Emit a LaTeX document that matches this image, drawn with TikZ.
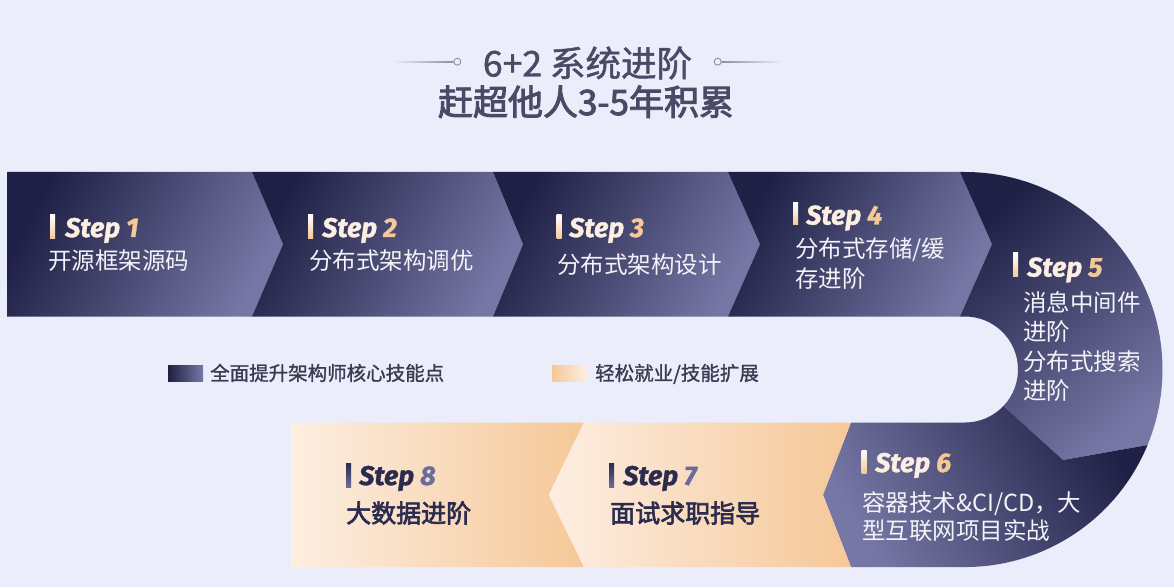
\documentclass[tikz,border=0pt]{standalone}
\usepackage{fontspec}
\setmainfont{Noto Sans CJK SC}
\newfontfamily\cjk{Noto Sans CJK SC}
\newfontfamily\cjkmed[FakeBold=2.6]{Noto Sans CJK SC}
\newfontfamily\cjksemi[FakeBold=1.3]{Noto Sans CJK SC}
\newfontfamily\stepfont[BoldItalicFeatures={FakeBold=1.2}]{Fira Sans}
\definecolor{bg}{HTML}{EBEDFA}
\definecolor{darkA}{HTML}{1F2045}
\definecolor{darkB}{HTML}{7677A5}
\definecolor{peachL}{HTML}{FDEEE2}
\definecolor{peachR}{HTML}{F5C898}
\definecolor{txtlight}{HTML}{F3F3F8}
\definecolor{titlecol}{HTML}{4A4A66}
\definecolor{legtxt}{HTML}{3A3A52}
\definecolor{stepA}{HTML}{FCEEE1}
\definecolor{stepB}{HTML}{F5C995}
\definecolor{navyT}{HTML}{2A2B4E}
\definecolor{navyN}{HTML}{6B6C9C}
\definecolor{linegray}{HTML}{8E8EA6}
\tikzset{
  darkseg/.style={top color=darkA, bottom color=darkB, shading angle=62},
  seg5/.style={top color=darkA, bottom color=darkB, shading angle=40},
  seg6/.style={top color=darkA, bottom color=darkB, shading angle=-60},
  peachseg/.style={left color=peachL, right color=peachR},
  lightbar/.style={top color=white, bottom color=stepB},
  darkbar/.style={top color=navyT, bottom color=navyN},
  steplbl/.style={anchor=base west, inner sep=0pt, font=\stepfont\bfseries\itshape\fontsize{27}{32}\selectfont},
  cjklight/.style={anchor=base west, inner sep=0pt, text=txtlight, font=\cjk\fontsize{23.5}{28}\selectfont},
  cjkdark/.style={anchor=base west, inner sep=0pt, text=navyT, font=\cjkmed\fontsize{25}{30}\selectfont},
  legend/.style={anchor=base west, inner sep=0pt, text=legtxt, font=\cjksemi\fontsize{19.5}{24}\selectfont},
}
\newcommand{\lightstep}[1]{\textcolor{stepA}{Step} \textcolor{stepB}{#1}}
\newcommand{\darkstep}[1]{\textcolor{navyT}{Step} \textcolor{navyN}{#1}}
\begin{document}
\begin{tikzpicture}[x=1pt,y=1pt]
\fill[bg] (0,0) rectangle (1174,587);
\useasboundingbox (0,0) rectangle (1174,587);

% title
\shade[left color=bg, right color=linegray] (393,524.8) rectangle (453.5,525.8);
\draw[linegray, line width=0.9pt, fill=bg] (457.3,525.3) circle (3.5);
\draw[linegray, line width=0.9pt, fill=bg] (717.7,525.3) circle (3.5);
\shade[left color=linegray, right color=bg] (721.5,524.8) rectangle (782,525.8);
\node[anchor=base, inner sep=0pt, text=titlecol, font=\cjksemi\fontsize{35.5}{40}\selectfont] (t1) at (587.5,510.5) {6+2 系统进阶};
\node[anchor=base, inner sep=0pt, text=titlecol, font=\cjkmed\fontsize{35}{40}\selectfont] (t2) at (586,472) {赶超他人3-5年积累};

% top band
\shade[darkseg] (7,415) -- (252,415) -- (283,342.75) -- (252,270.5) -- (7,270.5) -- cycle;
\shade[darkseg] (252,415) -- (493,415) -- (523,342.75) -- (493,270.5) -- (252,270.5) -- (283,342.75) -- cycle;
\shade[darkseg] (493,415) -- (728,415) -- (760,342.75) -- (728,270.5) -- (493,270.5) -- (523,342.75) -- cycle;
\shade[darkseg] (728,415) -- (960,415) -- (992,342.75) -- (960,270.5) -- (728,270.5) -- (760,342.75) -- cycle;
% curve
\shade[seg5] (960,415) -- (965,415) arc[start angle=90, end angle=-22.5, radius=197.5] -- (1063,127) -- (1003.45,181.0) arc[start angle=-43.5, end angle=90, radius=53] -- (960,270.5) -- (992,342.75) -- cycle;
\shade[seg6] (851,164.5) -- (965,164.5) arc[start angle=-90, end angle=-43.5, radius=53] -- (1063,127) -- (1147.5,141.9) arc[start angle=-22.5, end angle=-90, radius=197.5] -- (851,20) -- (823,92.25) -- cycle;
% bottom band
\shade[peachseg] (851,164.5) -- (823,92.25) -- (851,20) -- (583.6,20) -- (548.6,92.25) -- (583.6,164.5) -- cycle;
\shade[peachseg] (291,164.5) -- (583.6,164.5) -- (548.6,92.25) -- (583.6,20) -- (291,20) -- cycle;

% step 1
\shade[lightbar] (50,348) rectangle (55,372);
\node[steplbl] (l1) at (65,350) {\lightstep{1}};
\node[cjklight] (c1) at (48,317) {开源框架源码};
% step 2
\shade[lightbar] (308,348) rectangle (313,372);
\node[steplbl] (l2) at (322,350) {\lightstep{2}};
\node[cjklight] (c2) at (309,317) {分布式架构调优};
% step 3
\shade[lightbar] (556.5,348) rectangle (561.5,372);
\node[steplbl] (l3) at (569,350) {\lightstep{3}};
\node[cjklight] (c3) at (557,313) {分布式架构设计};
% step 4
\shade[lightbar] (793,362) rectangle (798,384);
\node[steplbl] (l4) at (806,362.5) {\lightstep{4}};
\node[cjklight] (c4a) at (795,330) {分布式存储/缓};
\node[cjklight] (c4b) at (795,300) {存进阶};
% step 5
\shade[lightbar] (1013,310) rectangle (1018,334);
\node[steplbl] (l5) at (1027,310.5) {\lightstep{5}};
\node[cjklight] (c5a) at (1023,276) {消息中间件};
\node[cjklight] (c5b) at (1023,246.5) {进阶};
\node[cjklight] (c5c) at (1023,217) {分布式搜索};
\node[cjklight] (c5d) at (1023,188) {进阶};
% step 6
\shade[lightbar] (861.5,114) rectangle (866.5,137);
\node[steplbl] (l6) at (875,115) {\lightstep{6}};
\node[cjklight] (c6a) at (862,76) {容器技术\&CI/CD，大};
\node[cjklight] (c6b) at (862,48) {型互联网项目实战};
% step 7
\shade[darkbar] (609,100) rectangle (614,124);
\node[steplbl] (l7) at (623,102) {\darkstep{7}};
\node[cjkdark] (c7) at (610,64.5) {面试求职指导};
% step 8
\shade[darkbar] (346,100) rectangle (351,124);
\node[steplbl] (l8) at (359,102) {\darkstep{8}};
\node[cjkdark] (c8) at (346,64.5) {大数据进阶};

% legend
\shade[left color=darkA, right color=darkB] (168,206) rectangle (203,222);
\node[legend] (g1) at (210,206.6) {全面提升架构师核心技能点};
\shade[left color=peachR, right color=peachL] (552,206) rectangle (587,222);
\node[legend] (g2) at (595,206.6) {轻松就业/技能扩展};
\end{tikzpicture}
\end{document}
